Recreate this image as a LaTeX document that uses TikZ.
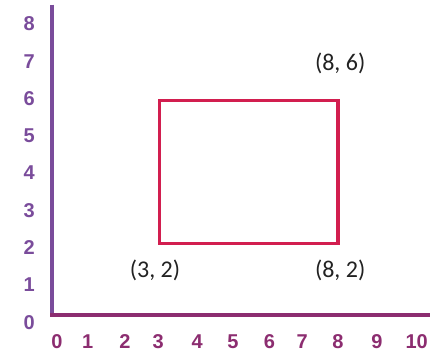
\documentclass[tikz,border=0pt]{standalone}
\usepackage{fontspec}
\setmainfont{Liberation Sans}
\newfontfamily\coordfont{Carlito}
\usepackage{tikz}

\definecolor{yaxiscol}{HTML}{7A4C9B}
\definecolor{xaxiscol}{HTML}{8C2D70}
\definecolor{rectcol}{HTML}{D21E4F}
\definecolor{coordcol}{HTML}{222222}

\tikzset{
  ylabel/.style={text=yaxiscol, font=\fontsize{20}{20}\selectfont\bfseries, inner sep=0pt},
  xlabel/.style={text=xaxiscol, font=\fontsize{20}{20}\selectfont\bfseries, inner sep=0pt},
  ptlabel/.style={text=coordcol, font=\coordfont\fontsize{24}{24}\selectfont, inner sep=0pt}
}

\begin{document}
\begin{tikzpicture}[x=35.75pt, y=35.75pt]
            \useasboundingbox (-1.4545,-1.119) rectangle (10.573,8.811);

            \coordinate (O) at (0,0);
            \coordinate (Ytop) at (0,8.68);
            \coordinate (Xend) at (10.573,0);

            \coordinate (A) at (3,2);
            \coordinate (B) at (8,2);
            \coordinate (C) at (8,6);
            \coordinate (D) at (3,6);

            \draw[yaxiscol, line width=3.6pt] (Ytop) -- (O);
            \draw[xaxiscol, line width=3.6pt] ([xshift=-1.8pt]O) -- (Xend);

            \draw[rectcol, line width=3.4pt] (A) -- (B) -- (C) -- (D) -- cycle;

            \node[ylabel] (y0) at (-0.64,-0.2) {0};
            \node[ylabel] (y1) at (-0.64,0.85) {1};
            \node[ylabel] (y2) at (-0.64,1.89) {2};
            \node[ylabel] (y3) at (-0.64,2.93) {3};
            \node[ylabel] (y4) at (-0.64,3.97) {4};
            \node[ylabel] (y5) at (-0.64,5.01) {5};
            \node[ylabel] (y6) at (-0.64,6.06) {6};
            \node[ylabel] (y7) at (-0.64,7.10) {7};
            \node[ylabel] (y8) at (-0.64,8.14) {8};

            \node[xlabel] (x0) at (0.14,-0.755) {0};
            \node[xlabel] (x1) at (1.0,-0.755) {1};
            \node[xlabel] (x2) at (2.04,-0.755) {2};
            \node[xlabel] (x3) at (2.97,-0.755) {3};
            \node[xlabel] (x4) at (4.06,-0.755) {4};
            \node[xlabel] (x5) at (5.06,-0.755) {5};
            \node[xlabel] (x6) at (6.08,-0.755) {6};
            \node[xlabel] (x7) at (7.0,-0.755) {7};
            \node[xlabel] (x8) at (8.0,-0.755) {8};
            \node[xlabel] (x9) at (9.09,-0.755) {9};
            \node[xlabel] (x10) at (10.2,-0.755) {10};

            \node[ptlabel] (pA) at (2.88,1.26) {(3, 2)};
            \node[ptlabel] (pB) at (8.06,1.26) {(8, 2)};
            \node[ptlabel] (pC) at (8.06,7.05) {(8, 6)};
          \end{tikzpicture}
\end{document}
